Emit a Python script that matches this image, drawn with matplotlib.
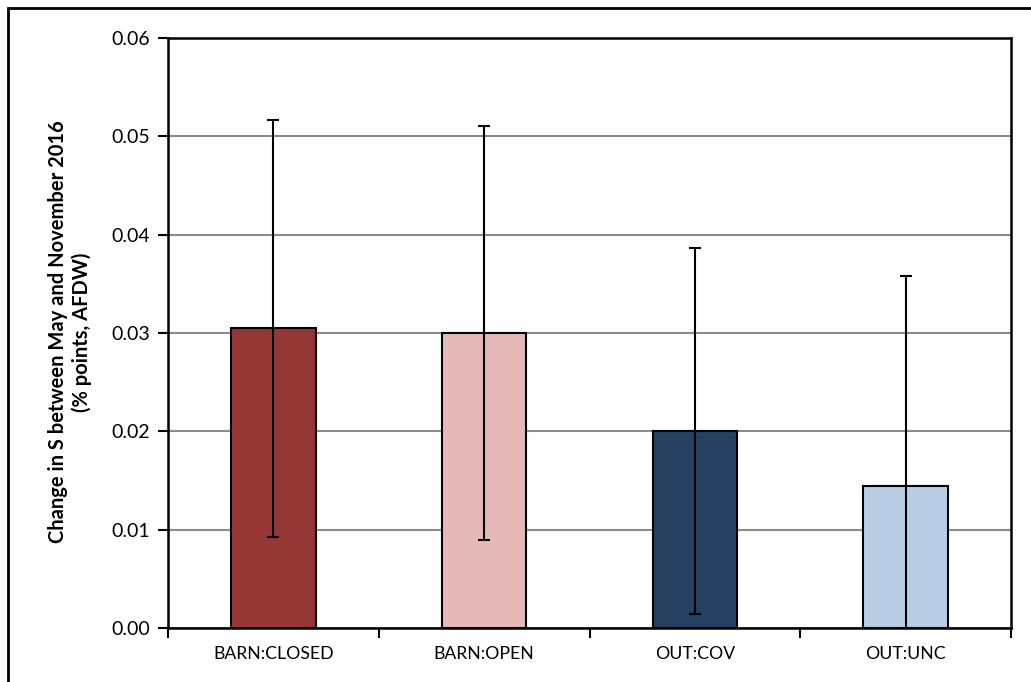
import matplotlib
matplotlib.use("Agg")
import matplotlib.pyplot as plt
from matplotlib.patches import Rectangle
import numpy as np

categories = ["BARN:CLOSED", "BARN:OPEN", "OUT:COV", "OUT:UNC"]
values = [0.0305, 0.0300, 0.0200, 0.01445]
errors = [0.0212, 0.0211, 0.0186, 0.0213]
colors = ["#953735", "#E6B9B8", "#254061", "#B9CDE5"]
yticks = [0.00, 0.01, 0.02, 0.03, 0.04, 0.05, 0.06]
ylabel = "Change in S between May and November 2016\n(% points, AFDW)"

plt.rcParams['font.family'] = ['Lato', 'DejaVu Sans']

W, H = 1031, 682
fig = plt.figure(figsize=(W/100, H/100), dpi=100)
ax = fig.add_axes([168/W, 1-628/H, (1011-168)/W, (628-38)/H])

x = np.arange(len(categories))
ax.bar(x, values, width=0.4, color=colors, edgecolor="black", linewidth=1.5, zorder=3)
ax.errorbar(x, values, yerr=errors, fmt="none", ecolor="black", elinewidth=1.5,
            capsize=4.5, capthick=1.5, zorder=4)

ax.set_xlim(-0.5, len(categories)-0.5)
ax.set_ylim(0, 0.06)
ax.set_yticks(yticks)
ax.set_yticklabels([f"{v:.2f}" for v in yticks], fontsize=14)
ax.yaxis.grid(True, color="#8c8c8c", linewidth=1.5, zorder=0)
ax.set_axisbelow(True)

ax.set_xticks(x)
ax.set_xticklabels(categories, fontsize=12.7)
ax.tick_params(axis="x", which="major", length=0, pad=13)
ax.set_xticks(np.arange(-0.5, len(categories), 1.0), minor=True)
ax.tick_params(axis="x", which="minor", length=7, width=1.5, direction="out")
ax.tick_params(axis="y", length=7, width=1.5, direction="out", pad=6)

for s in ax.spines.values():
    s.set_linewidth(1.8)
    s.set_color("black")

fig.text(70/W, 1-332/H, ylabel, rotation=90, ha="center", va="center",
         fontsize=14.5, fontweight="bold", linespacing=1.15)

fig.patches.append(Rectangle((8/W, -0.1), 1.2, 1-8/H+0.1, transform=fig.transFigure,
                             fill=False, edgecolor="black", linewidth=2))

fig.savefig("out.png", dpi=100)
